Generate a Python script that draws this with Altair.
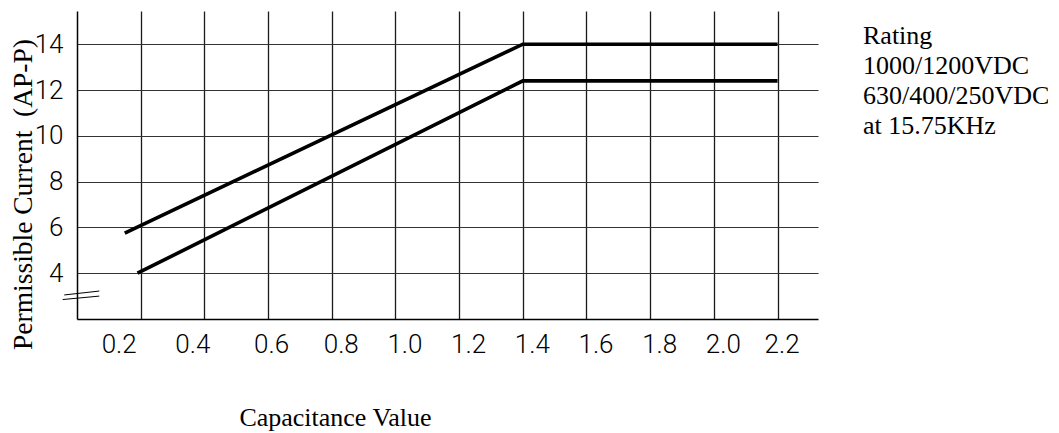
import altair as alt
import pandas as pd

# Data
upper_x = [0.15, 1.4, 2.2]
upper_y = [5.75, 14.0, 14.0]
lower_x = [0.19, 1.4, 2.2]
lower_y = [4.0, 12.4, 12.4]
x_ticks = [0.2, 0.4, 0.6, 0.8, 1.0, 1.2, 1.4, 1.6, 1.8, 2.0, 2.2]
y_ticks = [4, 6, 8, 10, 12, 14]
note_lines = ["Rating", "1000/1200VDC", "630/400/250VDC", "at 15.75KHz"]
# axis-break marker ("//") on the y axis
break_x1 = [-0.04, -0.045]
break_x2 = [0.07, 0.07]
break_y1 = [3.05, 2.85]
break_y2 = [3.22, 3.0]

df = pd.DataFrame({
    "cap": upper_x + lower_x,
    "cur": upper_y + lower_y,
    "series": ["upper"] * len(upper_x) + ["lower"] * len(lower_x),
})
brk = pd.DataFrame({"x1": break_x1, "x2": break_x2, "y1": break_y1, "y2": break_y2})

xscale = alt.Scale(domain=[0, 2.327], nice=False, zero=False)
yscale = alt.Scale(domain=[2, 15.45], nice=False, zero=False)

x_label_offset = {
    "condition": [
        {"test": "datum.value < 0.3", "value": -22},
        {"test": "datum.value < 0.5", "value": -12},
        {"test": "datum.value < 0.7", "value": 3},
        {"test": "datum.value > 2.1", "value": 4},
    ],
    "value": 9,
}

lines = alt.Chart(df).mark_line(strokeWidth=3.6, strokeCap="butt").encode(
    x=alt.X("cap:Q", scale=xscale,
            axis=alt.Axis(values=x_ticks, format=".1f", title="Capacitance Value",
                          titleFont="Liberation Serif", titleFontSize=26,
                          titleFontWeight="normal", titleColor="black",
                          titleX=258, titleY=106, titleAlign="center",
                          titleBaseline="alphabetic",
                          labelFont="Roboto", labelFontWeight=300, labelFontSize=26,
                          labelColor="black", labelPadding=12,
                          labelOffset=x_label_offset,
                          ticks=False, domainColor="black", domainWidth=1.5,
                          grid=True, gridColor="#1a1a1a", gridWidth=1.3)),
    y=alt.Y("cur:Q", scale=yscale,
            axis=alt.Axis(values=y_ticks, title="Permissible Current\u00a0 (AP-P)",
                          titleFont="Liberation Serif", titleFontSize=27.5,
                          titleFontWeight="normal", titleColor="black",
                          titleAngle=270, titleX=-46, titleY=183,
                          titleAlign="center", titleBaseline="alphabetic",
                          labelFont="Roboto", labelFontWeight=300, labelFontSize=26,
                          labelColor="black", labelPadding=14, labelBaseline="middle",
                          ticks=False, domainColor="black", domainWidth=1.5,
                          grid=True, gridColor="#333333", gridWidth=1)),
    detail="series:N",
    color=alt.value("black"),
)

breaks = alt.Chart(brk).mark_rule(color="black", strokeWidth=1).encode(
    x="x1:Q", x2="x2:Q", y="y1:Q", y2="y2:Q"
)

note = alt.Chart(pd.DataFrame({"t": [note_lines]})).mark_text(
    font="Liberation Serif", fontSize=26, align="left", baseline="alphabetic",
    lineHeight=30, color="black"
).encode(text="t", x=alt.value(786), y=alt.value(33))

chart = alt.layer(lines, breaks, note).properties(
    width=741, height=308,
    autosize=alt.AutoSizeParams(type="none"),
    padding={"left": 69, "top": 3, "right": 230, "bottom": 114},
).configure_view(stroke=None)

chart.save("out.html", embed_options={"renderer": "svg", "actions": False})
